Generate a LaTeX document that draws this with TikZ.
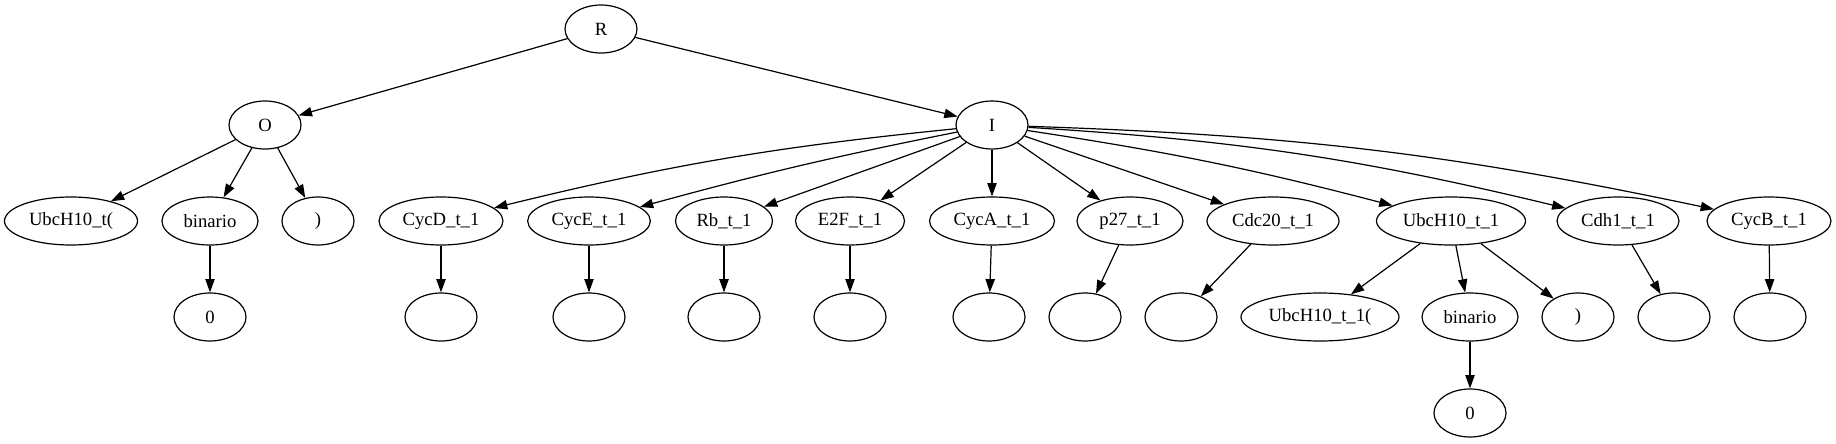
\documentclass[tikz,border=0pt]{standalone}
\usepackage{fontspec}
\setmainfont{Liberation Serif}
\usetikzlibrary{shapes.geometric,arrows.meta}
\begin{document}
\begin{tikzpicture}[x=0.75pt,y=-0.75pt,
  nd/.style={draw,ellipse,line width=0.9pt,minimum height=36pt,inner sep=0pt,font=\fontsize{14}{16}\selectfont},
  ar/.style={line width=0.9pt,-{Triangle[length=10pt,width=7pt]}}]
\path[use as bounding box] (0,0) rectangle (1836,443);
% level 0
\node[nd,minimum width=54pt] (R) at (601,29) {R};
% level 1
\node[nd,minimum width=54pt] (O) at (265,125) {O};
\node[nd,minimum width=54pt] (I) at (992,125) {I};
% level 2
\node[nd,minimum width=99.75pt] (Ut) at (71,221) {UbcH10\_t(};
\node[nd,minimum width=72pt] (bin1) at (210,221) {binario};
\node[nd,minimum width=54pt] (par1) at (318,221) {)};
\node[nd,minimum width=93pt] (CycD) at (441,221) {CycD\_t\_1};
\node[nd,minimum width=92pt] (CycE) at (589,221) {CycE\_t\_1};
\node[nd,minimum width=72.75pt] (Rb) at (724,221) {Rb\_t\_1};
\node[nd,minimum width=81.75pt] (E2F) at (850,221) {E2F\_t\_1};
\node[nd,minimum width=93.75pt] (CycA) at (992,221) {CycA\_t\_1};
\node[nd,minimum width=79.5pt] (p27) at (1130,221) {p27\_t\_1};
\node[nd,minimum width=99pt] (Cdc20) at (1273,221) {Cdc20\_t\_1};
\node[nd,minimum width=111.75pt] (Ubc) at (1451,221) {UbcH10\_t\_1};
\node[nd,minimum width=91.5pt] (Cdh1) at (1618,221) {Cdh1\_t\_1};
\node[nd,minimum width=93pt] (CycB) at (1769,221) {CycB\_t\_1};
% level 3
\node[nd,minimum width=54pt] (z1) at (210,317) {0};
\node[nd,minimum width=54pt] (e1) at (441,317) {};
\node[nd,minimum width=54pt] (e2) at (589,317) {};
\node[nd,minimum width=54pt] (e3) at (724,317) {};
\node[nd,minimum width=54pt] (e4) at (850,317) {};
\node[nd,minimum width=54pt] (e5) at (989,317) {};
\node[nd,minimum width=54pt] (e6) at (1085,317) {};
\node[nd,minimum width=54pt] (e7) at (1181,317) {};
\node[nd,minimum width=118.5pt] (Ut1) at (1320,317) {UbcH10\_t\_1(};
\node[nd,minimum width=72pt] (bin2) at (1470,317) {binario};
\node[nd,minimum width=54pt] (par2) at (1578,317) {)};
\node[nd,minimum width=54pt] (e8) at (1674,317) {};
\node[nd,minimum width=54pt] (e9) at (1770,317) {};
% level 4
\node[nd,minimum width=54pt] (z2) at (1470,413) {0};
% edges
\draw[ar] (R) -- (O);
\draw[ar] (R) -- (I);
\draw[ar] (O) -- (Ut);
\draw[ar] (O) -- (bin1);
\draw[ar] (O) -- (par1);
\draw[ar] (bin1) -- (z1);
\draw[ar] (I) to[bend right=4] (CycD);
\draw[ar] (I) to[bend right=2] (CycE);
\draw[ar] (I) -- (Rb);
\draw[ar] (I) -- (E2F);
\draw[ar] (I) -- (CycA);
\draw[ar] (I) -- (p27);
\draw[ar] (I) -- (Cdc20);
\draw[ar] (I) to[bend left=3] (Ubc);
\draw[ar] (I) to[bend left=5] (Cdh1);
\draw[ar] (I) to[bend left=5] (CycB);
\draw[ar] (CycD) -- (e1);
\draw[ar] (CycE) -- (e2);
\draw[ar] (Rb) -- (e3);
\draw[ar] (E2F) -- (e4);
\draw[ar] (CycA) -- (e5);
\draw[ar] (p27) -- (e6);
\draw[ar] (Cdc20) -- (e7);
\draw[ar] (Ubc) -- (Ut1);
\draw[ar] (Ubc) -- (bin2);
\draw[ar] (Ubc) -- (par2);
\draw[ar] (bin2) -- (z2);
\draw[ar] (Cdh1) -- (e8);
\draw[ar] (CycB) -- (e9);
\end{tikzpicture}
\end{document}
